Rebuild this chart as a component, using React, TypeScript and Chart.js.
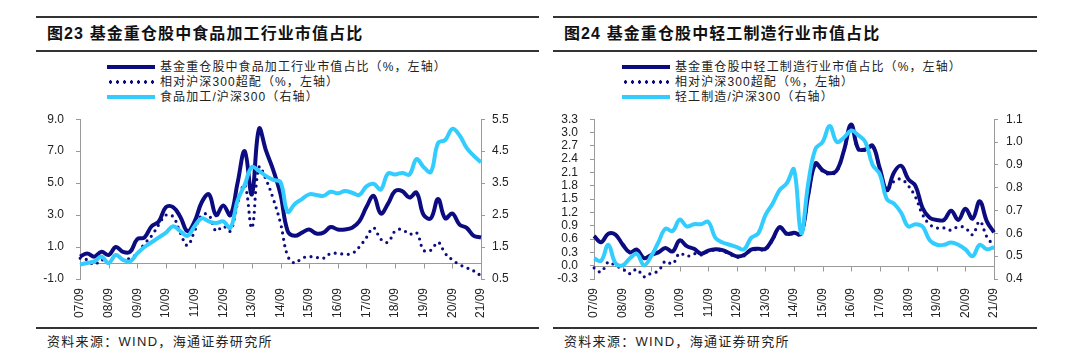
import React, { useEffect, useRef } from "react";
import { Chart, registerables } from "chart.js";

Chart.register(...registerables);

// ---------- data ----------
const quarterLabels = [
  "07/09", "07/12", "08/03", "08/06", "08/09", "08/12", "09/03", "09/06", "09/09", "09/12",
  "10/03", "10/06", "10/09", "10/12", "11/03", "11/06", "11/09", "11/12", "12/03", "12/06",
  "12/09", "12/12", "13/03", "13/06", "13/09", "13/12", "14/03", "14/06", "14/09", "14/12",
  "15/03", "15/06", "15/09", "15/12", "16/03", "16/06", "16/09", "16/12", "17/03", "17/06",
  "17/09", "17/12", "18/03", "18/06", "18/09", "18/12", "19/03", "19/06", "19/09", "19/12",
  "20/03", "20/06", "20/09", "20/12", "21/03", "21/06", "21/09",
];

// Figure 23: food processing
const foodWeight = [
  0.4, 0.6, 0.4, 0.7, 0.5, 1.0, 0.7, 0.7, 1.5, 1.6,
  2.3, 2.6, 3.5, 3.5, 2.9, 2.0, 2.6, 3.8, 4.3, 3.0,
  3.6, 3.0, 5.0, 7.0, 4.3, 8.4, 7.0, 5.8, 4.3, 2.0,
  1.7, 1.9, 2.1, 1.85, 1.9, 2.25, 2.1, 2.1, 2.2, 2.6,
  3.5, 4.2, 3.1, 3.7, 4.5, 4.5, 4.1, 4.4, 3.0, 2.8,
  4.0, 2.8, 3.1, 2.4, 2.2, 1.7, 1.6,
];
const foodOverweight = [
  0.3, 0.2, -0.1, 0.2, 0.0, 0.5, 0.2, 0.3, 0.6, 1.2,
  1.7, 2.4, 3.0, 2.9, 1.9, 1.1, 2.0, 3.0, 3.0, 2.0,
  2.3, 2.0, 3.7, 4.9, 2.2, 6.0, 5.2, 4.0, 2.5, 0.45,
  0.0, 0.3, 0.4, 0.35, 0.3, 0.6, 0.6, 0.55, 0.6, 1.0,
  1.6, 2.2, 1.5, 1.3, 2.0, 2.1, 1.8, 1.9, 0.8, 0.8,
  1.3, 0.6, 0.2, -0.1, -0.3, -0.5, -0.8,
];
const foodRelative = [
  0.95, 1.0, 1.05, 1.2, 1.0, 1.25, 1.1, 1.05, 1.3, 1.5,
  1.65, 1.8, 1.95, 2.15, 2.0, 1.85, 2.15, 2.4, 2.3, 2.25,
  2.3, 2.1, 2.95, 3.45, 4.0, 3.88, 3.72, 3.6, 3.53, 2.6,
  2.85, 3.0, 3.15, 3.13, 3.1, 3.23, 3.18, 3.25, 3.2, 3.13,
  3.4, 3.48, 3.3, 3.8, 3.77, 3.82, 3.77, 4.25, 4.0, 3.85,
  4.75, 4.85, 5.2, 5.0, 4.6, 4.35, 4.15,
];

// Figure 24: light manufacturing
const lightWeight = [
  0.67, 0.53, 0.72, 0.7, 0.48, 0.3, 0.36, 0.17, 0.24, 0.3,
  0.4, 0.32, 0.57, 0.44, 0.38, 0.27, 0.34, 0.37, 0.35, 0.28,
  0.21, 0.24, 0.36, 0.38, 0.38, 0.6, 0.87, 0.72, 0.74, 0.72,
  1.6, 2.3, 2.15, 2.08, 2.15, 2.6, 3.18, 2.63, 2.62, 2.7,
  2.2, 1.7, 2.1, 2.25, 1.95, 1.8, 1.3, 1.08, 1.03, 1.03,
  1.24, 1.03, 1.28, 1.06, 1.45, 1.0, 0.75,
];
const lightOverweight = [
  -0.05, -0.14, 0.08, 0.0, -0.07, -0.18, -0.08, -0.25, -0.17, -0.12,
  0.1, 0.04, 0.28, 0.21, 0.27, 0.24, 0.32, 0.35, 0.33, 0.26,
  0.19, 0.22, 0.34, 0.36, 0.36, 0.58, 0.85, 0.7, 0.72, 0.7,
  1.58, 2.28, 2.13, 2.06, 2.13, 2.58, 3.16, 2.61, 2.6, 2.68,
  2.18, 1.72, 1.9, 1.95, 1.8, 1.55, 1.15, 0.93, 0.85, 0.85,
  0.8, 0.88, 0.85, 0.7, 1.0, 0.65, 0.45,
];
const lightRelative = [
  0.49, 0.48, 0.55, 0.47, 0.46, 0.49, 0.51, 0.46, 0.5, 0.56,
  0.62, 0.61, 0.66, 0.63, 0.64, 0.64, 0.65, 0.58, 0.56, 0.55,
  0.54, 0.53, 0.58, 0.6, 0.68, 0.73, 0.79, 0.82, 0.88, 0.6,
  0.82, 0.97, 1.0, 1.07, 1.0, 1.02, 1.05, 1.03, 1.0, 0.9,
  0.86, 0.75, 0.73, 0.69, 0.63, 0.64, 0.63, 0.57, 0.55, 0.55,
  0.56, 0.55, 0.53, 0.5, 0.55, 0.53, 0.54,
];

const leftTitle = "图23 基金重仓股中食品加工行业市值占比";
const leftLegend = ["基金重仓股中食品加工行业市值占比（%，左轴）", "相对沪深300超配（%，左轴）", "食品加工/沪深300（右轴）"];
const rightTitle = "图24 基金重仓股中轻工制造行业市值占比";
const rightLegend = ["基金重仓股中轻工制造行业市值占比（%，左轴）", "相对沪深300超配（%，左轴）", "轻工制造/沪深300（右轴）"];
const sourceText = "资料来源：WIND，海通证券研究所";

const NAVY = "#0c0c80";
const CYAN = "#33ccff";
const AXIS = "#9a9a9a";
const FONT = '"Liberation Sans", "Noto Sans CJK SC", sans-serif';

const zeroLinePlugin = {
  id: "zeroLine",
  beforeDatasetsDraw(chart: any) {
    const { ctx, chartArea, scales } = chart;
    const y0 = Math.round(scales.y.getPixelForValue(0)) + 0.5;
    ctx.save();
    ctx.strokeStyle = AXIS;
    ctx.lineWidth = 1;
    ctx.beginPath();
    ctx.moveTo(chartArea.left, y0);
    ctx.lineTo(chartArea.right, y0);
    quarterLabels.forEach((lab, i) => {
      if (lab.endsWith("/09")) {
        const x = Math.round(scales.x.getPixelForValue(i)) + 0.5;
        ctx.moveTo(x, y0);
        ctx.lineTo(x, y0 + 5);
      }
    });
    ctx.stroke();
    ctx.restore();
  },
};

type PanelProps = {
  left: number;
  width: number;
  title: string;
  legend: string[];
  legendX: number;
  solid: number[];
  dotted: number[];
  rel: number[];
  yMin: number;
  yMax: number;
  yStep: number;
  y1Min: number;
  y1Max: number;
  y1Step: number;
  canvasLeft: number;
  canvasWidth: number;
  leftAxisWidth: number;
  leftPad: number;
  rightPad: number;
};

function ChartCanvas(p: PanelProps) {
  const ref = useRef<HTMLCanvasElement>(null);
  useEffect(() => {
    if (!ref.current) return;
    const tickFont = { family: FONT, size: 12 };
    const chart = new Chart(ref.current, {
      type: "line",
      data: {
        labels: quarterLabels,
        datasets: [
          { label: p.legend[0], data: p.solid, borderColor: NAVY, borderWidth: 4, yAxisID: "y", order: 3 },
          {
            label: p.legend[1], data: p.dotted, borderColor: NAVY, borderWidth: 3.2,
            borderDash: [0, 6.5], borderCapStyle: "round", yAxisID: "y", order: 2,
          },
          { label: p.legend[2], data: p.rel, borderColor: CYAN, borderWidth: 4, yAxisID: "y1", order: 1 },
        ],
      } as any,
      options: {
        animation: false,
        responsive: false,
        maintainAspectRatio: false,
        elements: { point: { radius: 0 }, line: { tension: 0.4, borderJoinStyle: "round" } },
        layout: { padding: { top: 10, left: 0, right: 0, bottom: 0 } },
        plugins: { legend: { display: false }, tooltip: { enabled: false } },
        scales: {
          x: {
            type: "category",
            grid: { display: false, drawTicks: false },
            border: { display: false },
            ticks: {
              autoSkip: false, maxRotation: 90, minRotation: 90, padding: 9,
              font: tickFont, color: "#222",
              callback: (_v: any, i: number) => (quarterLabels[i].endsWith("/09") ? quarterLabels[i] : ""),
            },
            afterFit: (s: any) => { s.height = 46; },
          },
          y: {
            position: "left", min: p.yMin, max: p.yMax,
            ticks: {
              stepSize: p.yStep, autoSkip: false, font: tickFont, color: "#222", padding: p.leftPad,
              callback: (v: any) => Number(v).toFixed(1),
            },
            grid: { drawOnChartArea: false, tickLength: 4, color: AXIS },
            border: { display: true, color: AXIS },
            afterFit: (s: any) => { s.width = p.leftAxisWidth; },
          },
          y1: {
            position: "right", min: p.y1Min, max: p.y1Max,
            ticks: {
              stepSize: p.y1Step, autoSkip: false, font: tickFont, color: "#222", padding: p.rightPad,
              callback: (v: any) => Number(v).toFixed(1),
            },
            grid: { drawOnChartArea: false, tickLength: 4, color: AXIS },
            border: { display: true, color: AXIS },
            afterFit: (s: any) => { s.width = 40; },
          },
        },
      } as any,
      plugins: [zeroLinePlugin],
    });
    return () => chart.destroy();
  }, []);
  return (
    <canvas
      ref={ref}
      width={p.canvasWidth}
      height={225}
      style={{ position: "absolute", left: p.canvasLeft, top: 100, width: p.canvasWidth, height: 225 }}
    />
  );
}

function LegendSample({ kind }: { kind: string }) {
  if (kind === "dot") {
    return (
      <div
        style={{
          width: 48, height: 4,
          backgroundImage: `radial-gradient(circle, ${NAVY} 1.5px, transparent 1.9px)`,
          backgroundSize: "7px 4px",
          backgroundPosition: "0 0",
        }}
      />
    );
  }
  return <div style={{ width: 48, height: 4, background: kind === "navy" ? NAVY : CYAN }} />;
}

function Panel(p: PanelProps) {
  const kinds = ["navy", "dot", "cyan"];
  const rowY = [67, 82, 97];
  return (
    <>
      <div style={{ position: "absolute", left: p.left, top: 16, width: p.width, height: 2, background: "#333" }} />
      <div
        style={{
          position: "absolute", left: p.left + 11, top: 24, height: 20, lineHeight: "20px",
          fontFamily: FONT, fontWeight: 700, fontSize: 16, letterSpacing: 1.1, color: "#111", whiteSpace: "nowrap",
        }}
      >
        {p.title}
      </div>
      <div style={{ position: "absolute", left: p.left, top: 50, width: p.width, height: 2, background: "#333" }} />
      {p.legend.map((t, i) => (
        <div key={i}>
          <div style={{ position: "absolute", left: p.legendX, top: rowY[i] - 2 }}>
            <LegendSample kind={kinds[i]} />
          </div>
          <div
            style={{
              position: "absolute", left: p.legendX + 53, top: rowY[i] - 8, height: 16, lineHeight: "16px",
              fontFamily: FONT, fontSize: 12, letterSpacing: 1.1, color: "#222", whiteSpace: "nowrap",
            }}
          >
            {t}
          </div>
        </div>
      ))}
      <ChartCanvas {...p} />
      <div style={{ position: "absolute", left: p.left, top: 327, width: p.width, height: 2, background: "#333" }} />
      <div
        style={{
          position: "absolute", left: p.left + 11, top: 334, height: 16, lineHeight: "16px",
          fontFamily: FONT, fontSize: 13, letterSpacing: 1.3, color: "#222", whiteSpace: "nowrap",
        }}
      >
        {sourceText}
      </div>
    </>
  );
}

export default function App() {
  return (
    <div style={{ position: "absolute", left: 0, top: 0, width: 1080, height: 351, background: "#fff", overflow: "hidden" }}>
      <Panel
        left={36} width={503} title={leftTitle} legend={leftLegend} legendX={107}
        solid={foodWeight} dotted={foodOverweight} rel={foodRelative}
        yMin={-1} yMax={9} yStep={2} y1Min={0.5} y1Max={5.5} y1Step={1}
        canvasLeft={36} canvasWidth={485} leftAxisWidth={44} leftPad={12} rightPad={7}
      />
      <Panel
        left={553} width={484} title={rightTitle} legend={rightLegend} legendX={622}
        solid={lightWeight} dotted={lightOverweight} rel={lightRelative}
        yMin={-0.3} yMax={3.3} yStep={0.3} y1Min={0.4} y1Max={1.1} y1Step={0.1}
        canvasLeft={553} canvasWidth={481} leftAxisWidth={41} leftPad={12} rightPad={8}
      />
    </div>
  );
}
